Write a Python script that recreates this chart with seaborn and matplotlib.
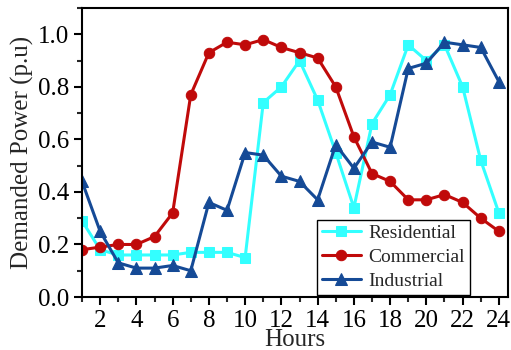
import matplotlib
matplotlib.use("Agg")
import matplotlib.pyplot as plt
import seaborn as sns
import numpy as np
from matplotlib.ticker import MultipleLocator

hours = list(range(1, 25))
residential = [0.29, 0.18, 0.16, 0.16, 0.16, 0.16, 0.17, 0.17, 0.17, 0.15, 0.74, 0.80,
               0.90, 0.75, 0.55, 0.34, 0.66, 0.77, 0.96, 0.90, 0.96, 0.80, 0.52, 0.32]
commercial = [0.18, 0.19, 0.20, 0.20, 0.23, 0.32, 0.77, 0.93, 0.97, 0.96, 0.98, 0.95,
              0.93, 0.91, 0.80, 0.61, 0.47, 0.44, 0.37, 0.37, 0.39, 0.36, 0.30, 0.25]
industrial = [0.44, 0.25, 0.13, 0.11, 0.11, 0.12, 0.10, 0.36, 0.33, 0.55, 0.54, 0.46,
              0.44, 0.37, 0.58, 0.49, 0.59, 0.57, 0.87, 0.89, 0.97, 0.96, 0.95, 0.82]
xticks = list(range(2, 25, 2))
yticks = [0.0, 0.2, 0.4, 0.6, 0.8, 1.0]

sns.set_style("ticks")
plt.rcParams['font.family'] = ['Liberation Serif', 'DejaVu Serif']
plt.rcParams['mathtext.fontset'] = 'stix'

fig = plt.figure(figsize=(5.11, 3.5), dpi=100)
ax = fig.add_axes([0.1605, 0.1514, 0.8335, 0.8256])

series = [
    ("Residential", residential, "#33FFFF", "s", 7.5),
    ("Commercial", commercial, "#C00A0A", "o", 7.5),
    ("Industrial", industrial, "#154A96", "^", 8),
]
for name, vals, col, mk, ms in series:
    sns.lineplot(x=hours, y=vals, ax=ax, color=col, marker=mk, markersize=ms,
                 markeredgecolor=col, linewidth=2.2, label=name)

ax.set_xlim(1, 24.5)
ax.set_ylim(0, 1.1)
ax.set_xticks(xticks)
ax.set_yticks(yticks)
ax.set_yticklabels([f"{v:.1f}" for v in yticks])
ax.xaxis.set_minor_locator(MultipleLocator(1))
ax.yaxis.set_minor_locator(MultipleLocator(0.1))
ax.tick_params(axis='both', which='major', labelsize=18, length=6, width=1.5,
               direction='out', colors='black', pad=3)
ax.tick_params(axis='both', which='minor', length=3.5, width=1.5, direction='out')
ax.tick_params(top=False, right=False, which='both')
for s in ax.spines.values():
    s.set_visible(True)
    s.set_linewidth(1.5)
    s.set_color('black')

ax.set_xlabel("Hours", fontsize=18)
ax.xaxis.set_label_coords(0.5, -0.112)
ax.xaxis.label.set_va('top')
ax.set_ylabel("Demanded Power (p.u)", fontsize=18, labelpad=3)

leg = ax.legend(loc='lower right', bbox_to_anchor=(0.911, 0.007), fontsize=14,
                frameon=True, fancybox=False, edgecolor='black', framealpha=1,
                borderpad=0.25, labelspacing=0.33, handlelength=2.0,
                handletextpad=0.4, borderaxespad=0.0)
leg.get_frame().set_linewidth(1.0)

fig.savefig("out.png", dpi=100)
